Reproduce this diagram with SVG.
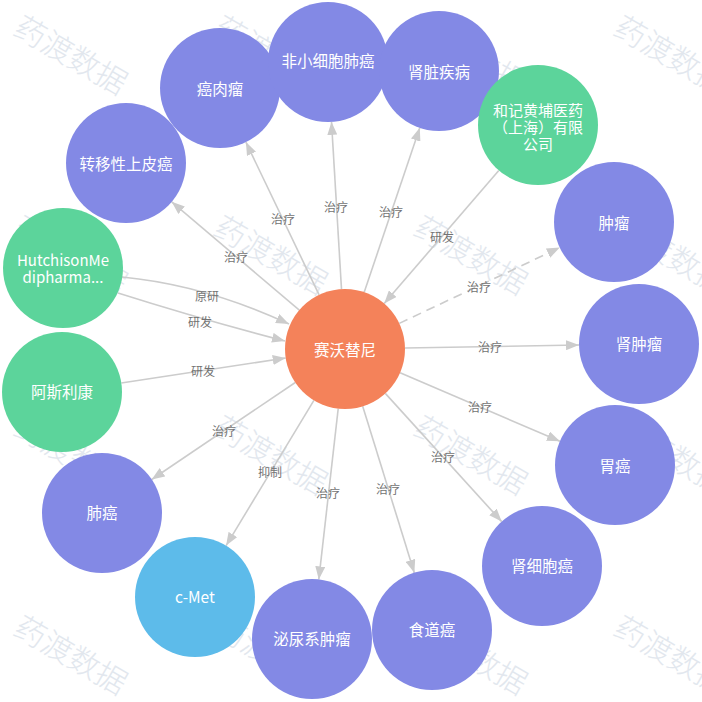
<svg xmlns="http://www.w3.org/2000/svg" width="702" height="702" viewBox="0 0 702 702">
<defs>
<style>
.wm{font-family:"Noto Sans CJK SC","Noto Sans",sans-serif;font-size:31px;font-weight:300;fill:#e2e7ee;text-anchor:middle;dominant-baseline:central}
.edge{stroke:#cccccc;stroke-width:1.6;fill:none;marker-end:url(#arrow)}
.dash{stroke-dasharray:9 6}
.elabel{font-family:"Noto Sans CJK SC","Noto Sans",sans-serif;font-size:12px;fill:#737373;text-anchor:middle;dominant-baseline:central}
.nlabel{font-family:"Noto Sans CJK SC","Noto Sans",sans-serif;font-size:15.5px;fill:#ffffff;text-anchor:middle;dominant-baseline:central}
.small{font-size:15px}
.disease{fill:#8389e5}
.company{fill:#5cd49b}
.drug{fill:#f4825a}
.target{fill:#5dbbea}
</style>
<marker id="arrow" viewBox="0 0 13 10" refX="13" refY="5" markerWidth="13" markerHeight="10" markerUnits="userSpaceOnUse" orient="auto">
<path d="M0,0 L13,5 L0,10 z" fill="#cccccc"/>
</marker>
</defs>
<rect width="702" height="702" fill="#ffffff"/>
<g id="watermark">
<text class="wm" transform="translate(72,53) rotate(30)">药渡数据</text>
<text class="wm" transform="translate(272,53) rotate(30)">药渡数据</text>
<text class="wm" transform="translate(472,53) rotate(30)">药渡数据</text>
<text class="wm" transform="translate(672,53) rotate(30)">药渡数据</text>
<text class="wm" transform="translate(72,253) rotate(30)">药渡数据</text>
<text class="wm" transform="translate(272,253) rotate(30)">药渡数据</text>
<text class="wm" transform="translate(472,253) rotate(30)">药渡数据</text>
<text class="wm" transform="translate(672,253) rotate(30)">药渡数据</text>
<text class="wm" transform="translate(72,453) rotate(30)">药渡数据</text>
<text class="wm" transform="translate(272,453) rotate(30)">药渡数据</text>
<text class="wm" transform="translate(472,453) rotate(30)">药渡数据</text>
<text class="wm" transform="translate(672,453) rotate(30)">药渡数据</text>
<text class="wm" transform="translate(72,653) rotate(30)">药渡数据</text>
<text class="wm" transform="translate(272,653) rotate(30)">药渡数据</text>
<text class="wm" transform="translate(472,653) rotate(30)">药渡数据</text>
<text class="wm" transform="translate(672,653) rotate(30)">药渡数据</text>
</g>
<g id="connectors">
<line class="edge" x1="299.3" y1="310.2" x2="171.7" y2="201.8"/>
<line class="edge" x1="319.1" y1="294.9" x2="245.9" y2="142.1"/>
<line class="edge" x1="341.5" y1="289.1" x2="331.5" y2="121.9"/>
<line class="edge" x1="364.2" y1="292.2" x2="419.8" y2="127.8"/>
<line class="edge" x1="498.8" y1="170.5" x2="384.2" y2="303.5"/>
<line class="edge dash" x1="399.3" y1="323.4" x2="559.8" y2="247.6"/>
<line class="edge" x1="405" y1="348" x2="579" y2="345"/>
<line class="edge" x1="400.1" y1="372.7" x2="559.9" y2="441.3"/>
<line class="edge" x1="385.3" y1="393.4" x2="501.7" y2="521.6"/>
<line class="edge" x1="362.7" y1="406.3" x2="414.3" y2="572.7"/>
<line class="edge" x1="338.2" y1="408.6" x2="318.8" y2="579.4"/>
<line class="edge" x1="313.9" y1="400.4" x2="226.1" y2="545.6"/>
<line class="edge" x1="295.3" y1="382.5" x2="151.7" y2="479.5"/>
<line class="edge" x1="121.3" y1="383" x2="285.7" y2="358"/>
<path class="edge" d="M122,277 Q205,285 289,324"/>
<path class="edge" d="M118,293 Q200,319 285,341"/>
<text class="elabel" x="236" y="256">治疗</text>
<text class="elabel" x="283" y="218">治疗</text>
<text class="elabel" x="336" y="206">治疗</text>
<text class="elabel" x="391" y="211">治疗</text>
<text class="elabel" x="442" y="236">研发</text>
<text class="elabel" x="479" y="286">治疗</text>
<text class="elabel" x="490" y="346">治疗</text>
<text class="elabel" x="480" y="406">治疗</text>
<text class="elabel" x="443" y="456">治疗</text>
<text class="elabel" x="388" y="488">治疗</text>
<text class="elabel" x="328" y="492">治疗</text>
<text class="elabel" x="270" y="471">抑制</text>
<text class="elabel" x="224" y="430">治疗</text>
<text class="elabel" x="203" y="370">研发</text>
<text class="elabel" x="207" y="295">原研</text>
<text class="elabel" x="200" y="321">研发</text>
</g>
<g id="node-zhuanyi"><circle class="disease" cx="126" cy="163" r="60"/><text class="nlabel" x="126" y="163">转移性上皮癌</text></g>
<g id="node-airouliu"><circle class="disease" cx="220" cy="88" r="60"/><text class="nlabel" x="220" y="88">癌肉瘤</text></g>
<g id="node-feixiaoxibao"><circle class="disease" cx="328" cy="62" r="60"/><text class="nlabel" x="328" y="60">非小细胞肺癌</text></g>
<g id="node-shenzang"><circle class="disease" cx="439" cy="71" r="60"/><text class="nlabel" x="439" y="71">肾脏疾病</text></g>
<g id="node-hejihuangpu"><circle class="company" cx="538" cy="125" r="60"/><text class="nlabel small" x="538" y="109">和记黄埔医药</text><text class="nlabel small" x="538" y="126">（上海）有限</text><text class="nlabel small" x="538" y="143">公司</text></g>
<g id="node-zhongliu"><circle class="disease" cx="614" cy="222" r="60"/><text class="nlabel" x="614" y="222">肿瘤</text></g>
<g id="node-shenzhongliu"><circle class="disease" cx="639" cy="344" r="60"/><text class="nlabel" x="639" y="343">肾肿瘤</text></g>
<g id="node-weiai"><circle class="disease" cx="615" cy="465" r="60"/><text class="nlabel" x="615" y="465">胃癌</text></g>
<g id="node-shenxibao"><circle class="disease" cx="542" cy="566" r="60"/><text class="nlabel" x="542" y="565">肾细胞癌</text></g>
<g id="node-shidao"><circle class="disease" cx="432" cy="630" r="60"/><text class="nlabel" x="432" y="629">食道癌</text></g>
<g id="node-miniao"><circle class="disease" cx="312" cy="639" r="60"/><text class="nlabel" x="312" y="638">泌尿系肿瘤</text></g>
<g id="node-cmet"><circle class="target" cx="195" cy="597" r="60"/><text class="nlabel" x="195" y="596">c-Met</text></g>
<g id="node-feiai"><circle class="disease" cx="102" cy="513" r="60"/><text class="nlabel" x="102" y="512">肺癌</text></g>
<g id="node-asilikang"><circle class="company" cx="62" cy="392" r="60"/><text class="nlabel" x="62" y="391">阿斯利康</text></g>
<g id="node-hutchison"><circle class="company" cx="63" cy="268" r="60"/><text class="nlabel small" x="63" y="259">HutchisonMe</text><text class="nlabel small" x="63" y="276">dipharma...</text></g>
<g id="node-saiwotini"><circle class="drug" cx="345" cy="349" r="60"/><text class="nlabel" x="345" y="349">赛沃替尼</text></g>
</svg>
